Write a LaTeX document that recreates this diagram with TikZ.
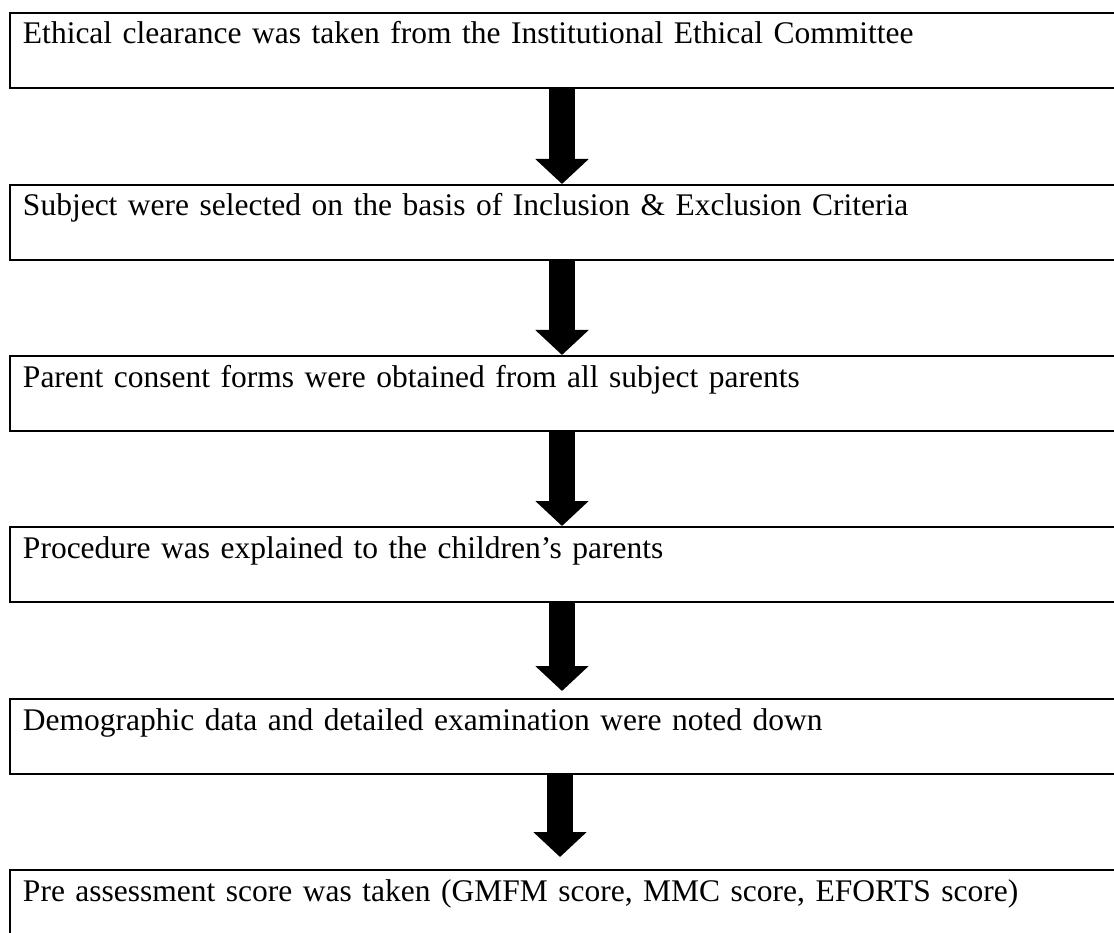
\documentclass[tikz,border=0pt]{standalone}
\usepackage{fontspec}
\setmainfont{Liberation Serif}
\usetikzlibrary{arrows.meta}

\begin{document}
\begin{tikzpicture}[x=1pt, y=-1pt,
        stepbox/.style={draw, line width=2pt, anchor=north west, inner xsep=13pt, inner ysep=0pt,
            text width=1080pt, align=left, text height=31pt, text depth=44pt,
            font=\fontsize{31.5}{36}\selectfont},
        bigarrow/.style={line width=26pt, -{Triangle[width=52pt, length=25pt]}}]
        % page
        \clip (0,0) rectangle (1114,933);

        % Steps
        \node[stepbox] (ethics) at (9,12) {Ethical clearance was taken from the Institutional Ethical Committee};
        \node[stepbox] (select) at (9,184) {Subject were selected on the basis of Inclusion \& Exclusion Criteria};
        \node[stepbox] (consent) at (9,355) {Parent consent forms were obtained from all subject parents};
        \node[stepbox] (explain) at (9,526) {Procedure was explained to the children’s parents};
        \node[stepbox] (demo) at (9,698) {Demographic data and detailed examination were noted down};
        \node[stepbox] (pre) at (9,869) {Pre assessment score was taken (GMFM score, MMC score, EFORTS score)};

        % Arrows
        \draw[bigarrow] ([xshift=553pt]ethics.south west) -- ([xshift=553pt]select.north west);
        \draw[bigarrow] ([xshift=553pt]select.south west) -- ([xshift=553pt]consent.north west);
        \draw[bigarrow] ([xshift=553pt]consent.south west) -- ([xshift=553pt]explain.north west);
        \draw[bigarrow, shorten >=7pt] ([xshift=553pt]explain.south west) -- ([xshift=553pt]demo.north west);
        \draw[bigarrow, shorten >=12pt] ([xshift=551pt]demo.south west) -- ([xshift=551pt]pre.north west);
    \end{tikzpicture}
\end{document}
